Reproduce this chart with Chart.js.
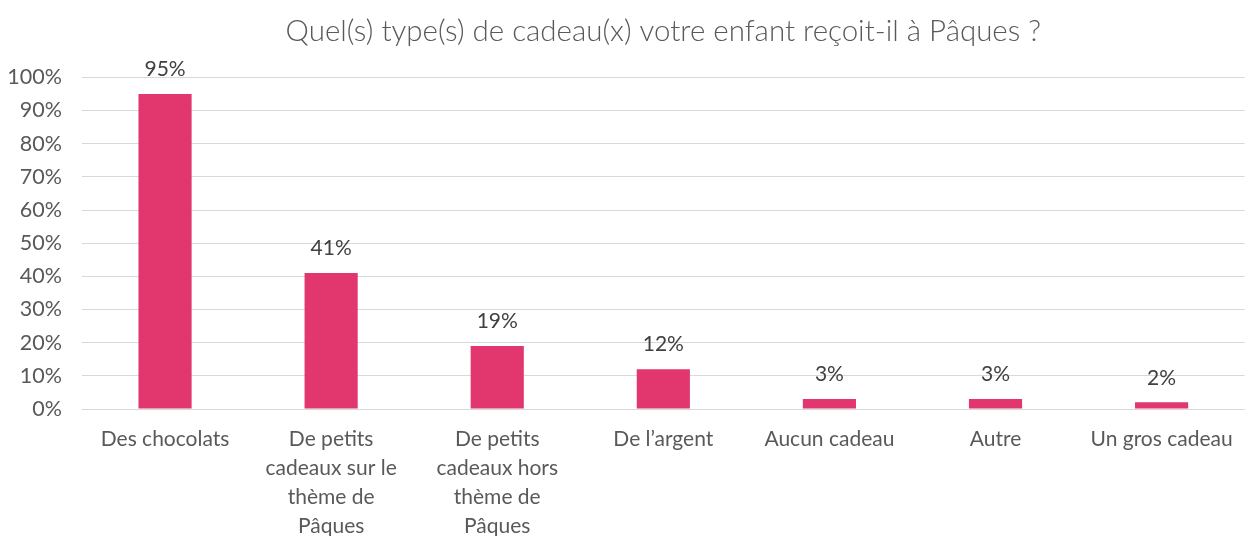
<!DOCTYPE html>
<html>
<head>
<meta charset="utf-8">
<script src="https://cdn.jsdelivr.net/npm/chart.js@4/dist/chart.umd.min.js"></script>
<style>
  html, body { margin: 0; padding: 0; background: #fff; }
  #wrap { width: 1249px; height: 536px; position: relative; }
</style>
</head>
<body>
<div id="wrap"><canvas id="giftChart"></canvas></div>
<script>
// chart data
const chartTitle = "Quel(s) type(s) de cadeau(x) votre enfant reçoit-il à Pâques ?";
const categories = [
  "Des chocolats",
  ["De petits", "cadeaux sur le", "thème de", "Pâques"],
  ["De petits", "cadeaux hors", "thème de", "Pâques"],
  "De l\u2019argent",
  "Aucun cadeau",
  "Autre",
  "Un gros cadeau"
];
const percentValues = [95, 41, 19, 12, 3, 3, 2];
const yTicks = [0, 10, 20, 30, 40, 50, 60, 70, 80, 90, 100];

const FONT = "Lato, 'Open Sans', sans-serif";

// draws the % value above each bar
const valueLabels = {
  id: 'valueLabels',
  afterDatasetsDraw(chart) {
    const ctx = chart.ctx;
    const meta = chart.getDatasetMeta(0);
    ctx.save();
    ctx.font = "21px " + FONT;
    ctx.fillStyle = "#404040";
    ctx.textAlign = "center";
    ctx.textBaseline = "bottom";
    meta.data.forEach((bar, i) => {
      ctx.fillText(percentValues[i] + "%", bar.x, bar.y - 14);
    });
    ctx.restore();
  }
};

new Chart(document.getElementById("giftChart").getContext('2d'), {
  type: 'bar',
  data: {
    labels: categories,
    datasets: [{
      data: percentValues,
      backgroundColor: '#E2366F',
      borderWidth: 0,
      categoryPercentage: 1.0,
      barPercentage: 0.32
    }]
  },
  options: {
    responsive: true,
    maintainAspectRatio: false,
    animation: false,
    layout: { padding: { left: 0, right: 0, top: 14, bottom: 0 } },
    plugins: {
      legend: { display: false },
      tooltip: { enabled: false },
      title: {
        display: true,
        fullSize: false, // centre over the plot area rather than the whole canvas
        text: chartTitle,
        color: '#595959',
        font: { family: FONT, size: 29.5, weight: '300' },
        padding: { top: 0, bottom: 28 }
      }
    },
    scales: {
      x: {
        grid: { display: false, drawTicks: false },
        border: { color: '#d9d9d9', width: 1 },
        afterFit(axis) { axis.height = 127; },
        ticks: {
          color: '#595959',
          font: { family: FONT, size: 21, lineHeight: 1.38 },
          padding: 16,
          maxRotation: 0,
          autoSkip: false
        }
      },
      y: {
        min: 0,
        max: 100,
        afterBuildTicks(axis) {
          axis.ticks = yTicks.map(v => ({ value: v }));
        },
        afterFit(axis) { axis.width = 82; },
        grid: { color: '#d9d9d9', drawTicks: false },
        border: { display: false },
        ticks: {
          color: '#595959',
          font: { family: FONT, size: 21.5 },
          padding: 20,
          callback: v => v + '%'
        }
      }
    }
  },
  plugins: [valueLabels]
});
</script>
</body>
</html>
